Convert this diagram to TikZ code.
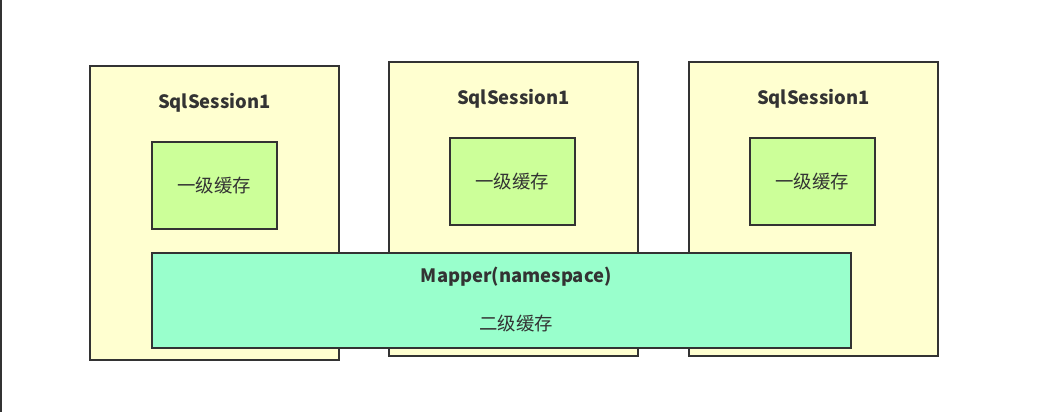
\documentclass[tikz,border=0pt]{standalone}
\usepackage{fontspec}
\setmainfont{Noto Sans CJK SC}
\usepackage{tikz}
\usetikzlibrary{positioning,calc}
\usepackage{xcolor}
\definecolor{sessyellow}{RGB}{255,255,208}
\definecolor{cachegreen}{RGB}{204,255,153}
\definecolor{mappermint}{RGB}{153,255,204}
\definecolor{edgegray}{RGB}{51,51,51}
\tikzset{
    session/.style={rectangle, draw=edgegray, fill=sessyellow, line width=1.6pt, minimum width=249pt, minimum height=294pt, inner sep=0pt},
    cache/.style={rectangle, draw=edgegray, fill=cachegreen, line width=1.6pt, minimum width=125pt, minimum height=87pt, inner sep=0pt, font=\fontsize{18.4}{20}\selectfont, text=edgegray},
    mapper/.style={rectangle, draw=edgegray, fill=mappermint, line width=1.6pt, minimum width=699pt, minimum height=95pt, inner sep=0pt},
    title/.style={font=\fontsize{18.4}{20}\selectfont\bfseries, text=edgegray},
    plain/.style={font=\fontsize{18.4}{20}\selectfont, text=edgegray},
}
\begin{document}
\begin{tikzpicture}[x=1pt, y=-1pt]
    \useasboundingbox (0,0) rectangle (1041,412);
    \draw[edgegray, line width=1.5pt] (0.75,0) -- (0.75,412);

    % Sessions
    \foreach \x/\y/\label in {89/65/1, 388/61/2, 688/61/3} {
        \node[session, anchor=north west] (S\label) at (\x, \y) {};
        \node[title] (T\label) at ($(S\label.north)+(0,38)$) {SqlSession1};
    }

    % First-level caches
    \foreach \x/\y/\label in {151/141/1, 449/137/2, 749/137/3} {
        \node[cache, anchor=north west] (C\label) at (\x, \y) {一级缓存};
    }

    % Mapper
    \node[mapper, anchor=north west] (M) at (151, 252) {};
    \node[title] (MN) at ($(M.north)+(15,25)$) {Mapper(namespace)};
    \node[plain] (L2) at ($(M.north)+(15,72)$) {二级缓存};
\end{tikzpicture}
\end{document}
